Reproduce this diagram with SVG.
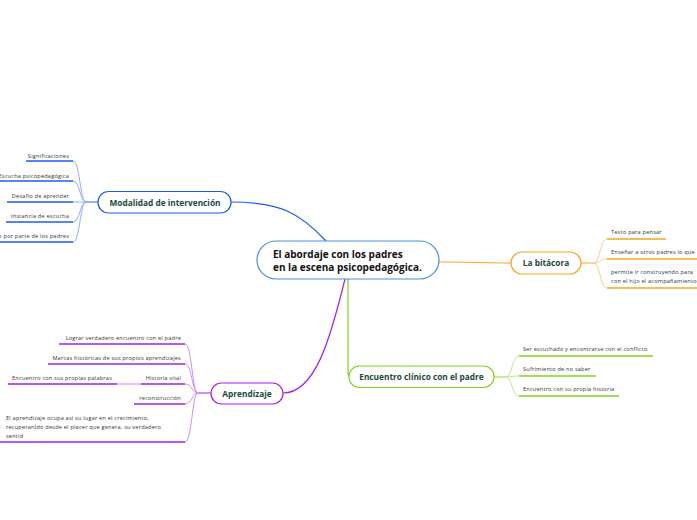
<svg xmlns="http://www.w3.org/2000/svg" width="697" height="520" viewBox="0 0 697 520">
<style>
  .bg{fill:#ffffff}
  .node{fill:#ffffff;stroke-width:1.2}
  .ntext{font-family:"Open Sans","Noto Sans",sans-serif;font-weight:bold;font-size:8.3px;fill:#1b4a3a}
  .ctext{font-family:"Open Sans","Noto Sans",sans-serif;font-weight:bold;font-size:10px;fill:#111111}
  .stext{font-family:"Open Sans","Noto Sans",sans-serif;font-size:5.6px;letter-spacing:0.2px;fill:#333333}
  .r{text-anchor:end}
  .c{text-anchor:middle}
  .conn{fill:none}
  .blue{stroke:#1c5ce8}
  .lblue{stroke:#8fb0f5}
  .orange{stroke:#f5a623}
  .lorange{stroke:#f9cf86}
  .green{stroke:#7ed321}
  .lgreen{stroke:#bdeb8c}
  .purple{stroke:#a020f0}
  .lpurple{stroke:#d08cf7}
  .ul{fill:none;stroke-width:1.5}
</style>
<rect class="bg" x="0" y="0" width="697" height="520"/>

<g id="connectors">
  <path class="conn blue" stroke-width="1.2" d="M 231 202 C 280 202, 300 213, 326 241"/>
  <path class="conn orange" stroke-width="1" d="M 439 262 C 470 262, 480 263, 511 263"/>
  <path class="conn green" stroke-width="1.2" d="M 348 279 L 348 370 C 348 374, 348 376, 350 376"/>
  <path class="conn purple" stroke-width="1.2" d="M 345 279 C 330 340, 315 393, 283 393"/>
  <path class="conn lblue" stroke-width="1" d="M 98 202 H 86 C 80 202, 80 161, 73 161"/>
  <path class="conn lblue" stroke-width="1" d="M 98 202 H 86 C 80 202, 80 181, 73 181"/>
  <path class="conn lblue" stroke-width="1" d="M 98 202 H 73"/>
  <path class="conn lblue" stroke-width="1" d="M 98 202 H 86 C 80 202, 80 222, 73 222"/>
  <path class="conn lblue" stroke-width="1" d="M 98 202 H 86 C 80 202, 80 242, 73 242"/>
  <path class="conn lorange" stroke-width="1" d="M 581 263 H 594 C 600 263, 600 239, 607 239"/>
  <path class="conn lorange" stroke-width="1" d="M 581 263 H 594 C 600 263, 600 259, 607 259"/>
  <path class="conn lorange" stroke-width="1" d="M 581 263 H 594 C 600 263, 600 288, 607 288"/>
  <path class="conn lgreen" stroke-width="1" d="M 494 377 H 506 C 512 377, 512 356, 519 356"/>
  <path class="conn lgreen" stroke-width="1" d="M 494 377 H 506 C 512 377, 512 376, 519 376"/>
  <path class="conn lgreen" stroke-width="1" d="M 494 377 H 506 C 512 377, 512 396, 519 396"/>
  <path class="conn lpurple" stroke-width="1" d="M 211 393 H 198 C 192 393, 192 344, 185 344"/>
  <path class="conn lpurple" stroke-width="1" d="M 211 393 H 198 C 192 393, 192 364, 185 364"/>
  <path class="conn lpurple" stroke-width="1" d="M 211 393 H 198 C 192 393, 192 384, 185 384"/>
  <path class="conn lpurple" stroke-width="1" d="M 211 393 H 198 C 192 393, 192 404, 185 404"/>
  <path class="conn lpurple" stroke-width="1" d="M 211 393 H 198 C 192 393, 192 442, 185 442"/>
  <path class="conn lpurple" stroke-width="1" d="M 141 384 H 117"/>
</g>

<g id="central">
  <rect class="node" x="257" y="241" width="182" height="38" rx="19" stroke="#4a90d9"/>
  <text class="ctext" x="273" y="258">El abordaje con los padres</text>
  <text class="ctext" x="273" y="271">en la escena psicopedagógica.</text>
</g>

<g id="modalidad">
  <rect class="node" x="98" y="191.5" width="133" height="21.5" rx="10.5" stroke="#1c5ce8"/>
  <text class="ntext c" x="165" y="205.5">Modalidad de intervención</text>
</g>
<g id="mod-significaciones">
  <text class="stext r" x="69" y="158">Significaciones</text>
  <path class="ul blue" d="M 26 161 H 73"/>
</g>
<g id="mod-escucha">
  <text class="stext r" x="69" y="178">Escucha psicopedagógica</text>
  <path class="ul blue" d="M 0 181 H 73"/>
</g>
<g id="mod-desafio">
  <text class="stext r" x="69" y="198">Desafío de aprender</text>
  <path class="ul blue" d="M 7 202 H 73"/>
</g>
<g id="mod-instancia">
  <text class="stext r" x="69" y="218">Instancia de escucha</text>
  <path class="ul blue" d="M 6 222 H 73"/>
</g>
<g id="mod-padres">
  <text class="stext r" x="69" y="238">Compromiso por parte de los padres</text>
  <path class="ul blue" d="M 0 242 H 73"/>
</g>

<g id="bitacora">
  <rect class="node" x="511" y="252" width="70" height="22" rx="11" stroke="#f5a623"/>
  <text class="ntext c" x="546" y="266">La bitácora</text>
</g>
<g id="bit-texto">
  <text class="stext" x="611" y="234">Texto para pensar</text>
  <path class="ul orange" d="M 607 239 H 666"/>
</g>
<g id="bit-ensenar">
  <text class="stext" x="611" y="254">Enseñar a otros padres lo que</text>
  <path class="ul orange" d="M 607 259 H 697"/>
</g>
<g id="bit-permite">
  <text class="stext" x="611" y="274">permite ir construyendo para</text>
  <text class="stext" x="611" y="283">con el hijo el acompañamiento</text>
  <path class="ul orange" d="M 607 288 H 697"/>
</g>

<g id="encuentro">
  <rect class="node" x="349" y="366" width="145" height="21.5" rx="10.5" stroke="#7ed321"/>
  <text class="ntext c" x="421.5" y="380">Encuentro clínico con el padre</text>
</g>
<g id="enc-ser">
  <text class="stext" x="523" y="351">Ser escuchado y encontrarse con el conflicto</text>
  <path class="ul green" d="M 519 356 H 653"/>
</g>
<g id="enc-sufrimiento">
  <text class="stext" x="523" y="371">Sufrimiento de no saber</text>
  <path class="ul green" d="M 519 376 H 596"/>
</g>
<g id="enc-historia">
  <text class="stext" x="523" y="391">Encuentro con su propia historia</text>
  <path class="ul green" d="M 519 396 H 619"/>
</g>

<g id="aprendizaje">
  <rect class="node" x="211" y="383" width="72" height="21" rx="10.5" stroke="#a020f0"/>
  <text class="ntext c" x="247" y="397">Aprendizaje</text>
</g>
<g id="apr-lograr">
  <text class="stext r" x="181" y="340">Lograr verdadero encuentro con el  padre</text>
  <path class="ul purple" d="M 59 344 H 185"/>
</g>
<g id="apr-marcas">
  <text class="stext r" x="181" y="360">Marcas históricas de sus propios aprendizajes</text>
  <path class="ul purple" d="M 48 364 H 185"/>
</g>
<g id="apr-historia">
  <text class="stext r" x="181" y="380">Historia vital</text>
  <path class="ul purple" d="M 141 384 H 185"/>
</g>
<g id="apr-palabras">
  <text class="stext r" x="112" y="380">Encuentro con sus propias palabras</text>
  <path class="ul purple" d="M 8 384 H 117"/>
</g>
<g id="apr-reconstruccion">
  <text class="stext r" x="181" y="400">reconstrucción</text>
  <path class="ul purple" d="M 134 404 H 185"/>
</g>
<g id="apr-ocupa">
  <text class="stext" x="6" y="420">El aprendizaje ocupa así su lugar en el crecimiento,</text>
  <text class="stext" x="6" y="429">recuperanÌ­do desde el placer que genera, su verdadero</text>
  <text class="stext" x="6" y="438">sentid</text>
  <path class="ul purple" d="M 0 442 H 185"/>
</g>
</svg>
